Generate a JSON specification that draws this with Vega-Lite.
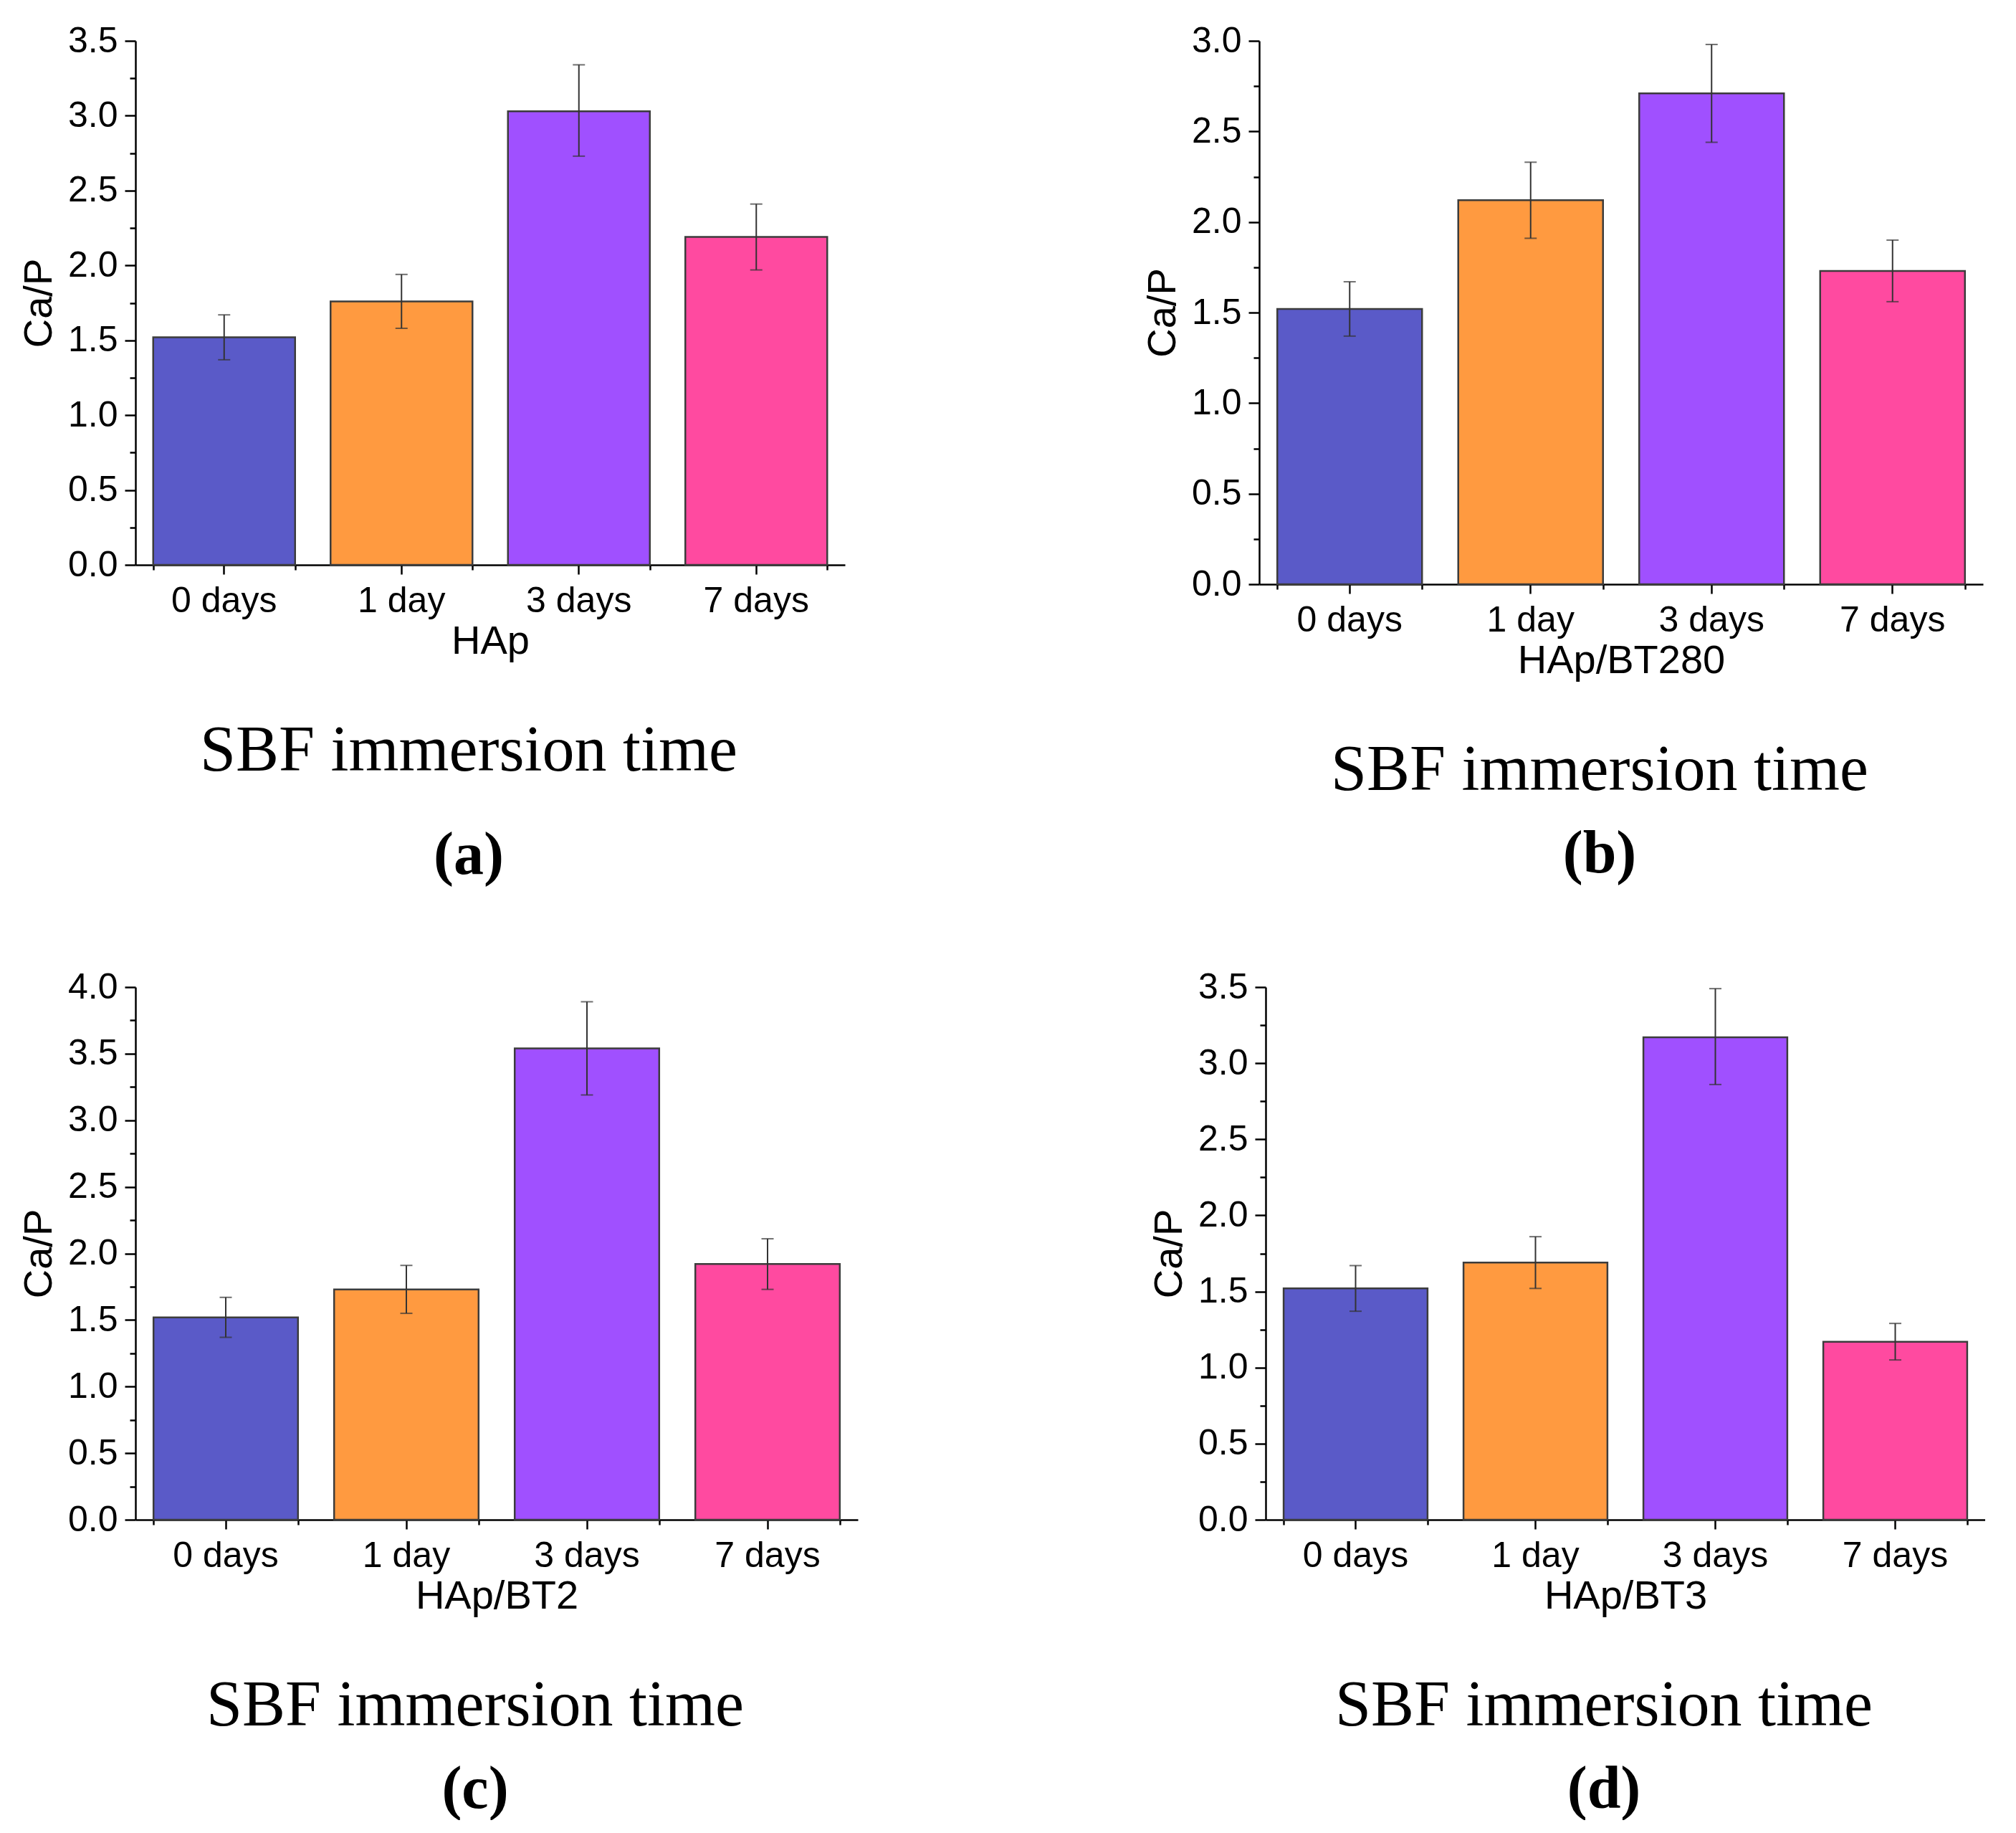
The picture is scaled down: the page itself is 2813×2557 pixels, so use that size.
{
  "$schema": "https://vega.github.io/schema/vega-lite/v6.json",
  "background": "white",
  "padding": {"left": 26, "top": 32, "right": 0, "bottom": 0},
  "config": {
    "view": {"stroke": null},
    "axis": {
      "domainColor": "black", "domainWidth": 2.5, "tickColor": "black", "tickWidth": 2.5,
      "labelFont": "Liberation Sans", "labelFontSize": 50, "labelColor": "black",
      "titleFont": "Liberation Sans", "titleFontSize": 56, "titleFontWeight": "normal", "titleColor": "black",
      "grid": false
    },
    "title": {
      "orient": "bottom", "anchor": "middle", "frame": "group",
      "font": "Liberation Serif", "fontSize": 90, "fontWeight": "normal", "color": "black",
      "subtitleFont": "Liberation Serif", "subtitleFontSize": 84, "subtitleFontWeight": "bold", "subtitleColor": "black",
      "subtitlePadding": 30, "offset": 82, "dx": -30
    }
  },
  "datasets": {
    "HAp": [
      {"day": "0 days", "ratio": 1.52, "lo": 1.37, "hi": 1.67},
      {"day": "1 day", "ratio": 1.76, "lo": 1.58, "hi": 1.94},
      {"day": "3 days", "ratio": 3.03, "lo": 2.73, "hi": 3.34},
      {"day": "7 days", "ratio": 2.19, "lo": 1.97, "hi": 2.41}
    ],
    "BT280": [
      {"day": "0 days", "ratio": 1.52, "lo": 1.37, "hi": 1.67},
      {"day": "1 day", "ratio": 2.12, "lo": 1.91, "hi": 2.33},
      {"day": "3 days", "ratio": 2.71, "lo": 2.44, "hi": 2.98},
      {"day": "7 days", "ratio": 1.73, "lo": 1.56, "hi": 1.90}
    ],
    "BT2": [
      {"day": "0 days", "ratio": 1.52, "lo": 1.37, "hi": 1.67},
      {"day": "1 day", "ratio": 1.73, "lo": 1.55, "hi": 1.91},
      {"day": "3 days", "ratio": 3.54, "lo": 3.19, "hi": 3.89},
      {"day": "7 days", "ratio": 1.92, "lo": 1.73, "hi": 2.11}
    ],
    "BT3": [
      {"day": "0 days", "ratio": 1.52, "lo": 1.37, "hi": 1.67},
      {"day": "1 day", "ratio": 1.69, "lo": 1.52, "hi": 1.86},
      {"day": "3 days", "ratio": 3.17, "lo": 2.86, "hi": 3.49},
      {"day": "7 days", "ratio": 1.17, "lo": 1.05, "hi": 1.29}
    ]
  },
  "vconcat": [
    {
      "spacing": 415,
      "hconcat": [
        {
          "width": 990, "height": 731,
          "data": {"name": "HAp"},
          "title": {"text": "SBF immersion time", "subtitle": "(a)", "subtitlePadding": 59},
          "layer": [
            {
              "mark": {"type": "bar", "stroke": "#3c3c3c", "strokeWidth": 2.5},
              "encoding": {
                "x": {"field": "day", "type": "nominal", "sort": ["0 days", "1 day", "3 days", "7 days"], "scale": {"paddingInner": 0.2, "paddingOuter": 0.1}, "axis": {"title": "HAp", "labelAngle": 0, "tickSize": 13, "labelPadding": 12, "titlePadding": 4}},
                "y": {"field": "ratio", "type": "quantitative", "scale": {"domain": [0, 3.5], "nice": false}, "axis": {"title": "Ca/P", "values": [0, 0.5, 1, 1.5, 2, 2.5, 3, 3.5], "format": ".1f", "tickSize": 15, "labelPadding": 10, "titlePadding": 11}},
                "color": {"field": "day", "type": "nominal", "scale": {"domain": ["0 days", "1 day", "3 days", "7 days"], "range": ["#5a5ac8", "#ff9a40", "#a050ff", "#ff4aa0"]}, "legend": null}
              }
            },
            {
              "mark": {"type": "errorbar", "ticks": {"size": 17, "thickness": 2, "color": "#333333"}, "rule": {"strokeWidth": 2, "color": "#333333"}},
              "encoding": {
                "x": {"field": "day", "type": "nominal", "sort": ["0 days", "1 day", "3 days", "7 days"], "axis": null},
                "y": {"field": "lo", "type": "quantitative", "scale": {"domain": [0, 3.5], "nice": false}, "axis": null},
                "y2": {"field": "hi"}
              }
            },
            {
              "mark": {"type": "tick", "opacity": 0},
              "encoding": {
                "x": {"field": "day", "type": "nominal", "sort": ["0 days", "1 day", "3 days", "7 days"], "axis": {"orient": "bottom", "tickBand": "extent", "labels": false, "title": null, "domain": false, "tickSize": 7}},
                "y": {"field": "ratio", "type": "quantitative", "scale": {"domain": [0, 3.5], "nice": false}, "axis": {"orient": "left", "values": [0.25, 0.75, 1.25, 1.75, 2.25, 2.75, 3.25], "labels": false, "title": null, "domain": false, "tickSize": 8}}
              }
            }
          ],
          "resolve": {"axis": {"x": "independent", "y": "independent"}}
        },
        {
          "width": 1010, "height": 758,
          "data": {"name": "BT280"},
          "title": {"text": "SBF immersion time", "subtitle": "(b)"},
          "layer": [
            {
              "mark": {"type": "bar", "stroke": "#3c3c3c", "strokeWidth": 2.5},
              "encoding": {
                "x": {"field": "day", "type": "nominal", "sort": ["0 days", "1 day", "3 days", "7 days"], "scale": {"paddingInner": 0.2, "paddingOuter": 0.1}, "axis": {"title": "HAp/BT280", "labelAngle": 0, "tickSize": 13, "labelPadding": 12, "titlePadding": 4}},
                "y": {"field": "ratio", "type": "quantitative", "scale": {"domain": [0, 3.0], "nice": false}, "axis": {"title": "Ca/P", "values": [0, 0.5, 1, 1.5, 2, 2.5, 3], "format": ".1f", "tickSize": 15, "labelPadding": 10, "titlePadding": 11}},
                "color": {"field": "day", "type": "nominal", "scale": {"domain": ["0 days", "1 day", "3 days", "7 days"], "range": ["#5a5ac8", "#ff9a40", "#a050ff", "#ff4aa0"]}, "legend": null}
              }
            },
            {
              "mark": {"type": "errorbar", "ticks": {"size": 17, "thickness": 2, "color": "#333333"}, "rule": {"strokeWidth": 2, "color": "#333333"}},
              "encoding": {
                "x": {"field": "day", "type": "nominal", "sort": ["0 days", "1 day", "3 days", "7 days"], "axis": null},
                "y": {"field": "lo", "type": "quantitative", "scale": {"domain": [0, 3.0], "nice": false}, "axis": null},
                "y2": {"field": "hi"}
              }
            },
            {
              "mark": {"type": "tick", "opacity": 0},
              "encoding": {
                "x": {"field": "day", "type": "nominal", "sort": ["0 days", "1 day", "3 days", "7 days"], "axis": {"orient": "bottom", "tickBand": "extent", "labels": false, "title": null, "domain": false, "tickSize": 7}},
                "y": {"field": "ratio", "type": "quantitative", "scale": {"domain": [0, 3.0], "nice": false}, "axis": {"orient": "left", "values": [0.25, 0.75, 1.25, 1.75, 2.25, 2.75], "labels": false, "title": null, "domain": false, "tickSize": 8}}
              }
            }
          ],
          "resolve": {"axis": {"x": "independent", "y": "independent"}}
        }
      ]
    },
    {
      "spacing": 406,
      "hconcat": [
        {
          "width": 1008, "height": 743,
          "data": {"name": "BT2"},
          "title": {"text": "SBF immersion time", "subtitle": "(c)"},
          "layer": [
            {
              "mark": {"type": "bar", "stroke": "#3c3c3c", "strokeWidth": 2.5},
              "encoding": {
                "x": {"field": "day", "type": "nominal", "sort": ["0 days", "1 day", "3 days", "7 days"], "scale": {"paddingInner": 0.2, "paddingOuter": 0.1}, "axis": {"title": "HAp/BT2", "labelAngle": 0, "tickSize": 13, "labelPadding": 12, "titlePadding": 4}},
                "y": {"field": "ratio", "type": "quantitative", "scale": {"domain": [0, 4.0], "nice": false}, "axis": {"title": "Ca/P", "values": [0, 0.5, 1, 1.5, 2, 2.5, 3, 3.5, 4], "format": ".1f", "tickSize": 15, "labelPadding": 10, "titlePadding": 11}},
                "color": {"field": "day", "type": "nominal", "scale": {"domain": ["0 days", "1 day", "3 days", "7 days"], "range": ["#5a5ac8", "#ff9a40", "#a050ff", "#ff4aa0"]}, "legend": null}
              }
            },
            {
              "mark": {"type": "errorbar", "ticks": {"size": 17, "thickness": 2, "color": "#333333"}, "rule": {"strokeWidth": 2, "color": "#333333"}},
              "encoding": {
                "x": {"field": "day", "type": "nominal", "sort": ["0 days", "1 day", "3 days", "7 days"], "axis": null},
                "y": {"field": "lo", "type": "quantitative", "scale": {"domain": [0, 4.0], "nice": false}, "axis": null},
                "y2": {"field": "hi"}
              }
            },
            {
              "mark": {"type": "tick", "opacity": 0},
              "encoding": {
                "x": {"field": "day", "type": "nominal", "sort": ["0 days", "1 day", "3 days", "7 days"], "axis": {"orient": "bottom", "tickBand": "extent", "labels": false, "title": null, "domain": false, "tickSize": 7}},
                "y": {"field": "ratio", "type": "quantitative", "scale": {"domain": [0, 4.0], "nice": false}, "axis": {"orient": "left", "values": [0.25, 0.75, 1.25, 1.75, 2.25, 2.75, 3.25, 3.75], "labels": false, "title": null, "domain": false, "tickSize": 8}}
              }
            }
          ],
          "resolve": {"axis": {"x": "independent", "y": "independent"}}
        },
        {
          "width": 1004, "height": 743,
          "data": {"name": "BT3"},
          "title": {"text": "SBF immersion time", "subtitle": "(d)"},
          "layer": [
            {
              "mark": {"type": "bar", "stroke": "#3c3c3c", "strokeWidth": 2.5},
              "encoding": {
                "x": {"field": "day", "type": "nominal", "sort": ["0 days", "1 day", "3 days", "7 days"], "scale": {"paddingInner": 0.2, "paddingOuter": 0.1}, "axis": {"title": "HAp/BT3", "labelAngle": 0, "tickSize": 13, "labelPadding": 12, "titlePadding": 4}},
                "y": {"field": "ratio", "type": "quantitative", "scale": {"domain": [0, 3.5], "nice": false}, "axis": {"title": "Ca/P", "values": [0, 0.5, 1, 1.5, 2, 2.5, 3, 3.5], "format": ".1f", "tickSize": 15, "labelPadding": 10, "titlePadding": 11}},
                "color": {"field": "day", "type": "nominal", "scale": {"domain": ["0 days", "1 day", "3 days", "7 days"], "range": ["#5a5ac8", "#ff9a40", "#a050ff", "#ff4aa0"]}, "legend": null}
              }
            },
            {
              "mark": {"type": "errorbar", "ticks": {"size": 17, "thickness": 2, "color": "#333333"}, "rule": {"strokeWidth": 2, "color": "#333333"}},
              "encoding": {
                "x": {"field": "day", "type": "nominal", "sort": ["0 days", "1 day", "3 days", "7 days"], "axis": null},
                "y": {"field": "lo", "type": "quantitative", "scale": {"domain": [0, 3.5], "nice": false}, "axis": null},
                "y2": {"field": "hi"}
              }
            },
            {
              "mark": {"type": "tick", "opacity": 0},
              "encoding": {
                "x": {"field": "day", "type": "nominal", "sort": ["0 days", "1 day", "3 days", "7 days"], "axis": {"orient": "bottom", "tickBand": "extent", "labels": false, "title": null, "domain": false, "tickSize": 7}},
                "y": {"field": "ratio", "type": "quantitative", "scale": {"domain": [0, 3.5], "nice": false}, "axis": {"orient": "left", "values": [0.25, 0.75, 1.25, 1.75, 2.25, 2.75, 3.25], "labels": false, "title": null, "domain": false, "tickSize": 8}}
              }
            }
          ],
          "resolve": {"axis": {"x": "independent", "y": "independent"}}
        }
      ]
    }
  ],
  "spacing": 116
}
